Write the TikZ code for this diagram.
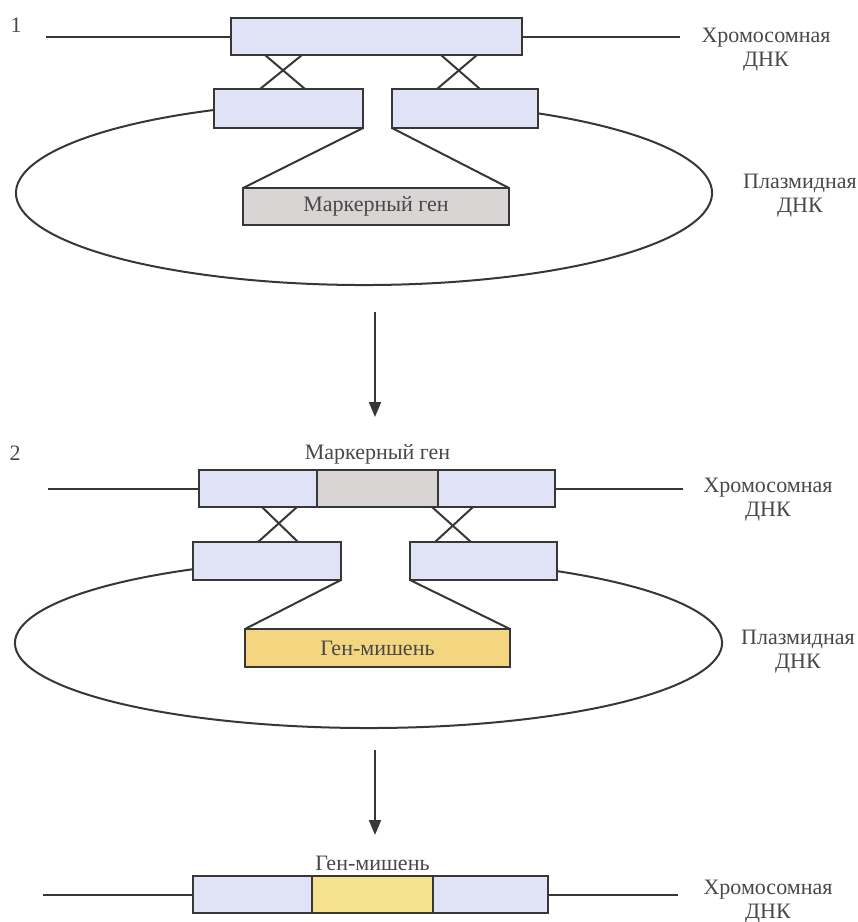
\documentclass[tikz,border=0pt]{standalone}
\usepackage{fontspec}
\setmainfont{Liberation Serif}
\newfontfamily\dnaFont{Liberation Serif}
\usetikzlibrary{arrows.meta, positioning, calc}
\definecolor{armFill}{RGB}{224,226,245}
\definecolor{markFill}{RGB}{217,213,213}
\definecolor{targetFill}{RGB}{244,213,128}
\definecolor{insertFill}{RGB}{245,226,142}
\definecolor{inkGray}{RGB}{55,55,55}
\definecolor{textGray}{RGB}{72,72,72}
\tikzset{
    armBox/.style={rectangle, draw=inkGray, fill=armFill, line width=2pt, inner sep=0pt, outer sep=0pt, minimum height=37pt, text=textGray, font=\dnaFont\fontsize{22}{26}\selectfont},
    markBox/.style={armBox, fill=markFill},
    targetBox/.style={armBox, fill=targetFill},
    dnaLine/.style={draw=inkGray, line width=2pt},
    sideLabel/.style={text=textGray, align=center, inner sep=0pt, font=\dnaFont\fontsize{22}{24}\selectfont},
    geneLabel/.style={text=textGray, font=\dnaFont\fontsize{22}{26}\selectfont}
}

\begin{document}
\begin{tikzpicture}[x=1pt, y=1pt, >={Triangle[length=15pt, width=12pt]}]
    \useasboundingbox (0,0) rectangle (858,-922);

    \node[geneLabel] (stage1) at (16,-25) {1};
    \draw[dnaLine] (364,-193) ++(112:348pt and 92pt) arc[start angle=112, end angle=424, x radius=348pt, y radius=92pt];
    \node[armBox, minimum width=291pt] (b1) at (376.5,-36.5) {};
    \node[armBox, minimum width=149pt, minimum height=39pt] (p1l) at (288.5,-108.5) {};
    \node[armBox, minimum width=146pt, minimum height=39pt] (p1r) at (465,-108.5) {};
    \node[markBox, minimum width=266pt] (m1) at (376,-206.5) {Маркерный ген};
    \coordinate (ch1L) at (46,-36.5);  \coordinate (ch1R) at (680,-36.5);
    \draw[dnaLine] (ch1L) -- (b1.west);
    \draw[dnaLine] (b1.east) -- (ch1R);
    \draw[dnaLine] (265,0 |- b1.south) -- (305,0 |- p1l.north);
    \draw[dnaLine] (302,0 |- b1.south) -- (260,0 |- p1l.north);
    \draw[dnaLine] (441,0 |- b1.south) -- (480,0 |- p1r.north);
    \draw[dnaLine] (477,0 |- b1.south) -- (437,0 |- p1r.north);
    \draw[dnaLine] (p1l.south east) -- (m1.north west);
    \draw[dnaLine] (p1r.south west) -- (m1.north east);
    \node[sideLabel] (chrom1) at (766,-50) {Хромосомная\\ДНК};
    \node[sideLabel] (plasm1) at (800,-196) {Плазмидная\\ДНК};

    \coordinate (arr1s) at (375,-312);  \coordinate (arr1e) at (375,-417);
    \draw[dnaLine, ->] (arr1s) -- (arr1e);

    \node[geneLabel] (stage2) at (15,-453) {2};
    \draw[dnaLine] (368.5,-643) ++(116:353.5pt and 85pt) arc[start angle=116, end angle=421, x radius=353.5pt, y radius=85pt];
    \node[armBox, minimum width=118pt] (b2l) at (258,-488.5) {};
    \node[markBox, minimum width=121pt, right=0pt of b2l] (b2m) {};
    \node[armBox, minimum width=117pt, right=0pt of b2m] (b2r) {};
    \node[geneLabel, above=2pt of b2m] (mark2) {Маркерный ген};
    \node[armBox, minimum width=148pt, minimum height=38pt] (p2l) at (267,-561) {};
    \node[armBox, minimum width=147pt, minimum height=38pt] (p2r) at (483.5,-561) {};
    \node[targetBox, minimum width=265pt, minimum height=38pt] (t2) at (377.5,-648) {Ген-мишень};
    \coordinate (ch2L) at (48,-488.5);  \coordinate (ch2R) at (683,-488.5);
    \draw[dnaLine] (ch2L) -- (b2l.west);
    \draw[dnaLine] (b2r.east) -- (ch2R);
    \draw[dnaLine] (262,0 |- b2l.south) -- (298,0 |- p2l.north);
    \draw[dnaLine] (297,0 |- b2l.south) -- (258,0 |- p2l.north);
    \draw[dnaLine] (432,0 |- b2m.south) -- (471,0 |- p2r.north);
    \draw[dnaLine] (473,0 |- b2r.south) -- (435,0 |- p2r.north);
    \draw[dnaLine] (p2l.south east) -- (t2.north west);
    \draw[dnaLine] (p2r.south west) -- (t2.north east);
    \node[sideLabel] (chrom2) at (768,-500) {Хромосомная\\ДНК};
    \node[sideLabel] (plasm2) at (798,-652) {Плазмидная\\ДНК};

    \coordinate (arr2s) at (375,-750);  \coordinate (arr2e) at (375,-835);
    \draw[dnaLine, ->] (arr2s) -- (arr2e);

    \node[armBox, minimum width=119pt] (b3l) at (252.5,-894.5) {};
    \node[armBox, fill=insertFill, minimum width=121pt, right=0pt of b3l] (b3m) {};
    \node[armBox, minimum width=115pt, right=0pt of b3m] (b3r) {};
    \node[geneLabel, above=2pt of b3m] (target3) {Ген-мишень};
    \coordinate (ch3L) at (43,-894.5);  \coordinate (ch3R) at (678,-894.5);
    \draw[dnaLine] (ch3L) -- (b3l.west);
    \draw[dnaLine] (b3r.east) -- (ch3R);
    \node[sideLabel] (chrom3) at (768,-902) {Хромосомная\\ДНК};
\end{tikzpicture}
\end{document}
